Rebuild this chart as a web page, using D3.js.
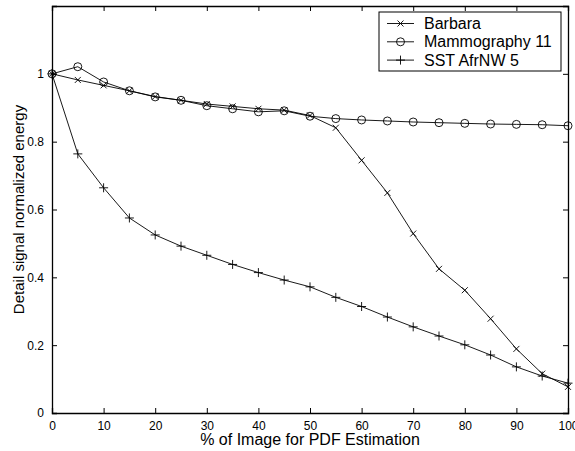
<!DOCTYPE html>
<html>
<head>
<meta charset="utf-8">
<script src="https://cdn.jsdelivr.net/npm/d3@7"></script>
<style>
  body { margin: 0; background: #fff; }
  text { font-family: "Liberation Sans", Arial, sans-serif; fill: #000; }
</style>
</head>
<body>
<div id="demo"></div>
<script>
// x positions (% of image)
const xVals = [0, 5, 10, 15, 20, 25, 30, 35, 40, 45, 50, 55, 60, 65, 70, 75, 80, 85, 90, 95, 100];
const barbara = [1.0, 0.982, 0.966, 0.95, 0.933, 0.922, 0.911, 0.904, 0.897, 0.893, 0.877, 0.841, 0.745, 0.649, 0.529, 0.425, 0.362, 0.278, 0.189, 0.116, 0.077];
const mammo = [1.0, 1.021, 0.976, 0.95, 0.932, 0.922, 0.906, 0.897, 0.888, 0.891, 0.875, 0.868, 0.864, 0.861, 0.858, 0.856, 0.854, 0.852, 0.851, 0.85, 0.847];
const sst = [1.0, 0.764, 0.664, 0.575, 0.525, 0.492, 0.465, 0.438, 0.414, 0.392, 0.372, 0.341, 0.314, 0.283, 0.254, 0.227, 0.201, 0.171, 0.136, 0.109, 0.088];
const xTicks = [0, 10, 20, 30, 40, 50, 60, 70, 80, 90, 100];
const yTicks = [0, 0.2, 0.4, 0.6, 0.8, 1];
const seriesNames = ["Barbara", "Mammography 11", "SST AfrNW 5"];
const seriesMarks = ["x", "o", "+"];

// plot box
let m = {top: 6, right: 7, bottom: 38, left: 52};
let W = 575, H = 451;
let w = W - m.left - m.right;
let h = H - m.top - m.bottom;

let svg = d3.select("#demo").append("svg")
    .attr("width", W)
    .attr("height", H);

const g = svg.append("g").attr("transform", "translate(" + m.left + "," + m.top + ")");

let x = d3.scaleLinear().domain([0, 100]).range([0, w]);
let y = d3.scaleLinear().domain([0, 1.2]).range([h, 0]);

const fmt = d => d === 0 || d === 1 ? String(d) : d3.format(".1f")(d);

// axes, ticks pointing inward (matlab style)
let xAxis = g.append("g").attr("transform", "translate(0," + h + ")")
    .call(d3.axisBottom(x).tickValues(xTicks).tickSize(-5).tickPadding(8).tickFormat(d => d));
let xTop = g.append("g")
    .call(d3.axisTop(x).tickValues(xTicks).tickSize(-5).tickFormat(""));
let yAxis = g.append("g")
    .call(d3.axisLeft(y).tickValues(yTicks).tickSize(-5).tickPadding(8).tickFormat(fmt));
let yRight = g.append("g").attr("transform", "translate(" + w + ",0)")
    .call(d3.axisRight(y).tickValues(yTicks).tickSize(-5).tickFormat(""));

[xAxis, xTop, yAxis, yRight].forEach(a => {
    a.select(".domain").attr("stroke", "#000").attr("stroke-width", 1.3);
    a.selectAll(".tick line").attr("stroke", "#000");
    a.selectAll("text").attr("font-size", 12).attr("font-family", "Liberation Sans, Arial, sans-serif");
});

// axis labels
svg.append("text")
    .attr("x", m.left + w / 2)
    .attr("y", 445)
    .attr("text-anchor", "middle")
    .attr("font-size", 16)
    .text("% of Image for PDF Estimation");

svg.append("text")
    .attr("transform", "translate(24," + (m.top + h / 2) + ") rotate(-90)")
    .attr("text-anchor", "middle")
    .attr("font-size", 15)
    .text("Detail signal normalized energy");

// draw a marker of a given type
function marker(sel, type, px, py) {
    if (type === "x") {
        sel.append("path")
            .attr("d", `M${px-3},${py-3}L${px+3},${py+3}M${px-3},${py+3}L${px+3},${py-3}`)
            .attr("stroke", "#000").attr("stroke-width", 0.9).attr("fill", "none");
    } else if (type === "o") {
        sel.append("circle").attr("cx", px).attr("cy", py).attr("r", 4)
            .attr("stroke", "#000").attr("stroke-width", 0.9).attr("fill", "none");
    } else {
        sel.append("path")
            .attr("d", `M${px-4.5},${py}L${px+4.5},${py}M${px},${py-4.5}L${px},${py+4.5}`)
            .attr("stroke", "#000").attr("stroke-width", 0.9).attr("fill", "none");
    }
}

let line = d3.line().x((d, i) => x(xVals[i])).y(d => y(d));

[barbara, mammo, sst].forEach((vals, k) => {
    g.append("path")
        .datum(vals)
        .attr("d", line)
        .attr("fill", "none")
        .attr("stroke", "#000")
        .attr("stroke-width", 0.9);
    let mg = g.append("g");
    vals.forEach((v, i) => marker(mg, seriesMarks[k], x(xVals[i]), y(v)));
});

// legend
let lg = svg.append("g").attr("transform", "translate(379,12)");
lg.append("rect")
    .attr("width", 182).attr("height", 59)
    .attr("fill", "#fff").attr("stroke", "#000").attr("stroke-width", 1);
seriesNames.forEach((name, k) => {
    let cy = 11.5 + k * 18.3;
    lg.append("line")
        .attr("x1", 8).attr("x2", 35).attr("y1", cy).attr("y2", cy)
        .attr("stroke", "#000").attr("stroke-width", 0.9);
    marker(lg, seriesMarks[k], 21.5, cy);
    lg.append("text")
        .attr("x", 45).attr("y", cy + 5.5)
        .attr("font-size", 16)
        .text(name);
});
</script>
</body>
</html>
